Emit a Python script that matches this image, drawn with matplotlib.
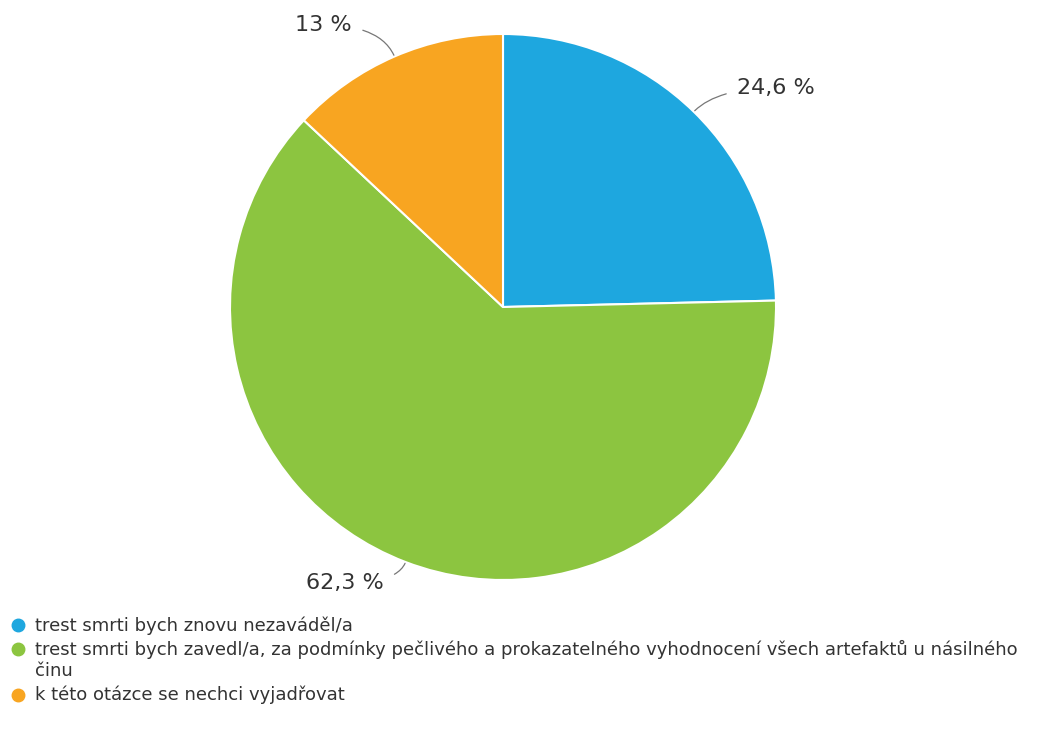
import matplotlib
matplotlib.use("Agg")
import matplotlib.pyplot as plt
import numpy as np

categories = [
    "trest smrti bych znovu nezaváděl/a",
    "trest smrti bych zavedl/a, za podmínky pečlivého a prokazatelného vyhodnocení všech artefaktů u násilného\nčinu",
    "k této otázce se nechci vyjadřovat",
]
values = [24.6, 62.3, 13.0]
value_labels = ["24,6 %", "62,3 %", "13 %"]
colors = ["#1EA7DF", "#8CC540", "#F8A521"]

plt.rcParams['font.family'] = ['DejaVu Sans']

W, H = 1063, 729
fig = plt.figure(figsize=(W / 100, H / 100), dpi=100)
cx, cy, r = 503, 307, 273
ax = fig.add_axes([(cx - r) / W, (H - cy - r) / H, 2 * r / W, 2 * r / H])
wedges, _ = ax.pie(values, colors=colors, startangle=90, counterclock=False,
                   radius=1.0, wedgeprops=dict(edgecolor="white", linewidth=1.5))
ax.set_xlim(-1, 1)
ax.set_ylim(-1, 1)
ax.set_aspect("equal")
ax.axis("off")

# label placement (radius factor, extra dx, extra dy in data units)
place = {0: (1.17, 0.04, -0.035), 1: (1.12, -0.036, 0.035), 2: (1.17, -0.088, -0.041)}
for i, w in enumerate(wedges):
    mid_deg = (w.theta1 + w.theta2) / 2
    mid = np.deg2rad(mid_deg)
    ex, ey = np.cos(mid), np.sin(mid)
    rt, dx, dy = place[i]
    tx, ty = rt * ex + dx, rt * ey + dy
    ha = "left" if ex > 0 else "right"
    ax.annotate(value_labels[i], xy=(1.0 * ex, 1.0 * ey), xytext=(tx, ty),
                ha=ha, va="center", fontsize=16, color="#333333",
                annotation_clip=False,
                arrowprops=dict(arrowstyle="-", color="#777777", lw=0.9,
                                shrinkA=6, shrinkB=1,
                                connectionstyle=f"angle3,angleA=0,angleB={mid_deg:.1f}"))

# legend drawn manually in a pixel-coordinate overlay
lax = fig.add_axes([0, 0, 1, 1], zorder=-1)
lax.set_xlim(0, W)
lax.set_ylim(H, 0)
lax.axis("off")
line_h, gap = 21.5, 2.5
y = 625
for cat, c in zip(categories, colors):
    n_lines = cat.count("\n") + 1
    lax.plot([18], [y], marker="o", markersize=9, color=c, linestyle="")
    lax.text(35, y - line_h / 2 + 2, cat, ha="left", va="top", fontsize=13,
             color="#333333", linespacing=1.19)
    y += n_lines * line_h + gap

fig.savefig("out.png", dpi=100)
